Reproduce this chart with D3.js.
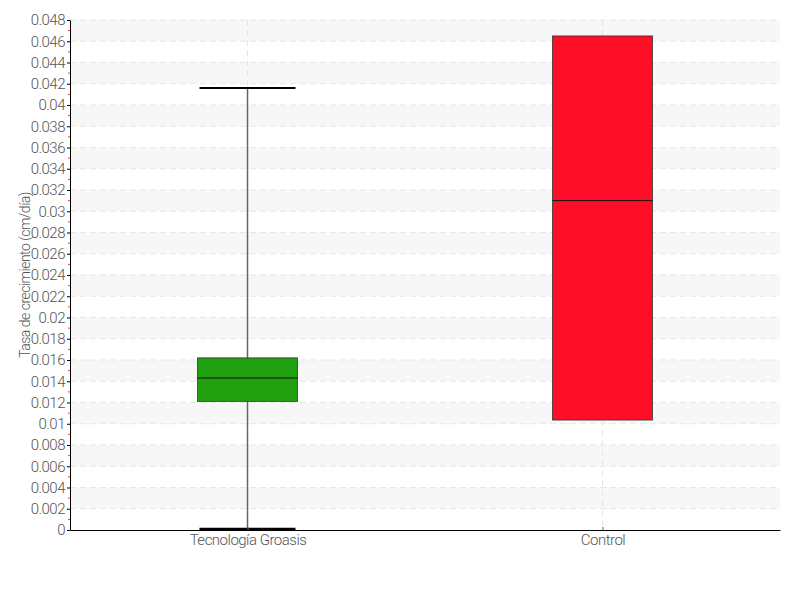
<!DOCTYPE html>
<html>
<head>
<meta charset="utf-8">
<script src="https://cdn.jsdelivr.net/npm/d3@7/dist/d3.min.js"></script>
<style>
  body { margin: 0; background: #fff; }
  text { font-family: Roboto, "Liberation Sans", sans-serif; font-weight: 300; letter-spacing: -0.5px; fill: #555; }
</style>
</head>
<body>
<div id="chart"></div>
<script>
// box plot data
const categories = ["Tecnología Groasis", "Control"];
const mins    = [0.0001, 0.01035];
const q1s     = [0.0121, 0.01035];
const medians = [0.0143, 0.0310];
const q3s     = [0.0162, 0.0465];
const maxs    = [0.0416, 0.0465];
const colors  = ["#21a00f", "#ff0f27"];
const yTicks  = d3.range(0, 0.0481, 0.002);

const width = 800, height = 600;
const margin = { top: 20, right: 20, bottom: 70, left: 70 };
const innerW = width - margin.left - margin.right;
const innerH = height - margin.top - margin.bottom;

const svg = d3.select("#chart").append("svg")
    .attr("width", width)
    .attr("height", height);
const g = svg.append("g").attr("transform", `translate(${margin.left},${margin.top})`);

const x = d3.scalePoint().domain(categories).range([0, innerW]).padding(0.5);
const y = d3.scaleLinear().domain([0, 0.048]).range([innerH, 0]);

// alternating bands
g.selectAll(".band")
    .data(yTicks.slice(0, -1).map((t, i) => ({ lo: t, hi: yTicks[i + 1], i })).filter(d => d.i % 2 === 1))
    .enter().append("rect")
    .attr("x", 0)
    .attr("width", innerW)
    .attr("y", d => y(d.hi))
    .attr("height", d => y(d.lo) - y(d.hi))
    .attr("fill", "#f7f7f7");

// horizontal grid
g.selectAll(".hgrid")
    .data(yTicks.slice(1))
    .enter().append("line")
    .attr("x1", 0).attr("x2", innerW)
    .attr("y1", d => y(d)).attr("y2", d => y(d))
    .attr("stroke", "#e6e6e6")
    .attr("stroke-dasharray", "6,4");

// vertical grid
g.selectAll(".vgrid")
    .data(categories)
    .enter().append("line")
    .attr("x1", d => x(d)).attr("x2", d => x(d))
    .attr("y1", 0).attr("y2", innerH)
    .attr("stroke", "#e6e6e6")
    .attr("stroke-dasharray", "6,4");

const boxW = 100, capW = 96;
const boxes = g.selectAll(".box")
    .data(categories.map((c, i) => ({ c, i })))
    .enter().append("g");

// whiskers
boxes.append("line")
    .attr("x1", d => x(d.c)).attr("x2", d => x(d.c))
    .attr("y1", d => y(maxs[d.i])).attr("y2", d => y(q3s[d.i]))
    .attr("stroke", "#666").attr("stroke-width", 1.5);
boxes.append("line")
    .attr("x1", d => x(d.c)).attr("x2", d => x(d.c))
    .attr("y1", d => y(q1s[d.i])).attr("y2", d => y(mins[d.i]))
    .attr("stroke", "#666").attr("stroke-width", 1.5);

// caps (only where whisker extends beyond box)
boxes.filter(d => maxs[d.i] > q3s[d.i]).append("line")
    .attr("x1", d => x(d.c) - capW / 2).attr("x2", d => x(d.c) + capW / 2)
    .attr("y1", d => y(maxs[d.i])).attr("y2", d => y(maxs[d.i]))
    .attr("stroke", "#000").attr("stroke-width", 2);
boxes.filter(d => mins[d.i] < q1s[d.i]).append("line")
    .attr("x1", d => x(d.c) - capW / 2).attr("x2", d => x(d.c) + capW / 2)
    .attr("y1", d => y(mins[d.i])).attr("y2", d => y(mins[d.i]))
    .attr("stroke", "#000").attr("stroke-width", 2.5);

boxes.append("rect")
    .attr("x", d => x(d.c) - boxW / 2)
    .attr("width", boxW)
    .attr("y", d => y(q3s[d.i]))
    .attr("height", d => y(q1s[d.i]) - y(q3s[d.i]))
    .attr("fill", d => colors[d.i])
    .attr("stroke", "#333")
    .attr("stroke-opacity", 0.8)
    .attr("stroke-width", 1);

boxes.append("line")
    .attr("x1", d => x(d.c) - boxW / 2).attr("x2", d => x(d.c) + boxW / 2)
    .attr("y1", d => y(medians[d.i])).attr("y2", d => y(medians[d.i]))
    .attr("stroke", "#111").attr("stroke-width", 1);

// y axis
const yAxis = g.append("g")
    .call(d3.axisLeft(y).tickValues(yTicks).tickSize(3).tickSizeOuter(0).tickFormat(d => d3.format("~g")(+d.toFixed(3))));
yAxis.select(".domain").attr("stroke", "#000");
yAxis.selectAll(".tick line").attr("stroke", "#000");
yAxis.selectAll("text").attr("font-size", 15).attr("fill", "#555").attr("dx", "1");

// red minor ticks
g.selectAll(".minor")
    .data(yTicks.slice(0, -1).map(t => t + 0.001))
    .enter().append("line")
    .attr("x1", -2).attr("x2", 0)
    .attr("y1", d => y(d)).attr("y2", d => y(d))
    .attr("stroke", "#f33");

// x axis
const xAxis = g.append("g")
    .attr("transform", `translate(0,${innerH})`)
    .call(d3.axisBottom(x).tickSize(0).tickPadding(4));
xAxis.select(".domain").attr("stroke", "#000");
xAxis.selectAll("text").attr("font-size", 15).attr("fill", "#555");
xAxis.selectAll(".tick").append("line")
    .attr("y1", 0).attr("y2", -3).attr("stroke", "#666");

// y label
svg.append("text")
    .attr("transform", `translate(30,${margin.top + innerH / 2}) rotate(-90)`)
    .attr("text-anchor", "middle")
    .attr("font-size", 14)
    .attr("fill", "#555")
    .text("Tasa de crecimiento (cm/día)");
</script>
</body>
</html>
